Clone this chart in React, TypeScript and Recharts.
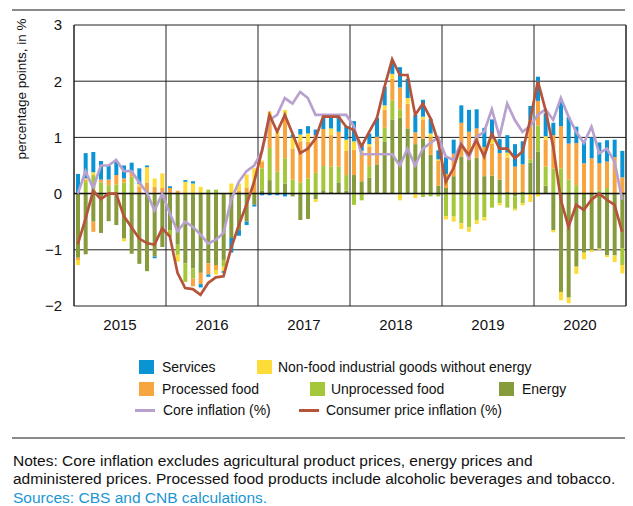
import React from 'react';
import { ComposedChart, Bar, Line, XAxis, YAxis, CartesianGrid, ReferenceLine } from 'recharts';

const years = ['2015', '2016', '2017', '2018', '2019', '2020'];
const monthNames = ['01', '02', '03', '04', '05', '06', '07', '08', '09', '10', '11', '12'];
const months: string[] = [];
years.forEach((y) => monthNames.forEach((m) => months.push(`${y}-${m}`)));

const services = [
  0.35, 0.45, 0.36, 0.33, 0.25, 0.25, 0.23, 0.16, 0.28, 0.03, -0.03, 0,
  0.03, 0, 0.03, 0.04, -0.06, -0.04, 0, -0.03, -0.26, -0.1, -0.06, -0.03,
  -0.03, -0.03, -0.03, -0.05, 0.05, 0.1, 0.13, 0.1, 0.2, 0.2, 0.27, 0.24,
  0.36, 0.14, 0.19, 0.34, 0.33, 0.21, 0.36, 0.34, 0.31, 0.3, 0.26, 0.16,
  0.3, 0.25, 0.31, 0.39, 0.34, 0.34, 0.34, 0.25, 0.31, 0.4, 0.41, 0.25,
  0.43, 0.41, 0.22, 0.46, 0.47, 0.29, 0.39, 0.37, 0.37, 0.38, 0.31, 0.47,
];
const nonFood = [
  -0.09, 0.02, 0.05, 0, 0, 0, -0.05, 0, 0.05, 0.27, 0.15, 0.26,
  0, -0.12, 0.21, 0.18, 0.12, 0, -0.08, -0.08, 0.18, 0.13, 0.24, 0.25,
  0.02, 0.05, 0.06, 0.12, 0.2, 0.12, 0.15, -0.05, 0, 0.12, 0, 0.2,
  0.15, 0.05, 0.05, 0, 0.08, 0.09, -0.12, 0.1, -0.08, 0.05, 0.07, 0.03,
  -0.06, -0.09, -0.1, -0.08, -0.07, -0.06, 0.09, -0.04, 0.09, -0.03, -0.04, -0.15,
  -0.05, 0.06, -0.04, -0.15, -0.1, -0.13, -0.12, -0.04, -0.02, -0.03, -0.12, -0.15,
];
const processed = [
  -0.04, 0.03, -0.18, 0.05, 0.1, 0.17, 0.07, 0.09, 0.12, 0.2, 0.12, 0.1,
  0.1, 0.05, 0, -0.14, -0.2, -0.2, -0.09, 0, 0, 0.05, 0.1, 0.2,
  0.12, 0.6, 0.65, 0.74, 0.55, 0.73, 0.65, 0.67, 0.66, 0.56, 0.62, 0.43,
  0.45, 0.49, 0.34, 0.49, 0.32, 0.38, 0.39, 0.44, 0.21, 0.34, 0.31, 0.44,
  0.25, 0.4, 0.6, 0.5, 0.52, 0.52, 0.57, 0.47, 0.61, 0.48, 0.49, 0.7,
  0.44, 0.48, 0.59, 0.75, 0.64, 0.75, 0.54, 0.63, 0.48, 0.47, 0.65, 0.29,
];
const unprocessed = [
  0, 0.22, 0.33, 0.2, 0.15, 0.16, 0.2, 0.3, 0, 0, 0, 0,
  -0.12, -0.18, -0.33, -0.18, 0, 0.07, 0.07, -0.12, 0, 0, 0, 0,
  0.4, 0.57, 0.39, 0.45, 0.25, 0.2, 0.27, 0.37, 0.43, 0.45, 0.28, 0.28,
  -0.2, -0.12, 0.21, 0, 0.25, 0.34, 0.15, 0, 0, -0.06, -0.05, -0.05,
  -0.4, -0.41, -0.53, -0.6, -0.47, -0.42, -0.25, -0.17, -0.25, -0.22, -0.17, 0.06,
  0.46, 0.34, 0.45, 0.45, 0.25, 0.15, 0, 0, 0.06, 0.1, 0, -0.3,
];
const energy = [
  -1.14, -1.08, -0.5, -0.7, -0.49, -0.56, -0.8, -1.07, -1.25, -1.38, -1.12, -0.95,
  -0.65, -0.91, -1.24, -1.33, -1.41, -1.24, -1.27, -1.18, -0.79, -0.65, -0.5, -0.2,
  0.05, 0.24, 0, 0.18, -0.05, -0.47, -0.45, -0.1, 0.06, 0.03, 0.2, 0.05,
  0.33, 0.22, 0.28, 0.52, 0.92, 1.32, 1.35, 1.16, 0.88, 0.98, 0.69, 0.14,
  0.1, 0.31, 0.66, 0.6, 0.64, 0.31, 0.32, 0.25, 0.03, -0.05, 0.03, 0.55,
  0.75, 0.14, -0.65, -1.75, -1.85, -1.3, -1.05, -1.0, -0.98, -1.1, -1.1, -0.97,
];
const core = [
  0.0, 0.4, 0.1, 0.5, 0.5, 0.6, 0.4, 0.4, 0.2, 0.02, -0.3, 0.0,
  -0.35, -0.67, -0.5, -0.59, -0.73, -0.89, -0.82, -0.7, -0.11, 0.21, 0.4, 0.5,
  0.75, 1.31, 1.4, 1.7, 1.6, 1.81, 1.7, 1.4, 1.4, 1.4, 1.4, 1.4,
  1.2, 0.7, 0.7, 0.7, 0.7, 0.7, 0.5, 0.8, 0.5, 0.8, 0.9, 1.0,
  0.66, 0.6, 0.9, 0.63, 1.01, 1.1, 1.5, 1.01, 1.6, 1.31, 1.1, 1.2,
  1.4, 1.5, 1.31, 1.7, 1.37, 1.1, 0.9, 1.19, 0.72, 0.8, 0.57, -0.11,
];
const cpi = [
  -0.9, -0.45, 0.05, -0.1, 0.0, 0.0, -0.4, -0.6, -0.8, -0.88, -0.91, -0.62,
  -0.76, -1.41, -1.68, -1.7, -1.8, -1.59, -1.49, -1.47, -0.97, -0.56, -0.2, 0.21,
  0.75, 1.4, 1.1, 1.4, 1.07, 0.72, 0.8, 0.98, 1.37, 1.37, 1.37, 1.19,
  1.13, 0.84, 1.1, 1.34, 1.9, 2.39, 2.11, 2.11, 1.4, 1.6, 1.34, 0.92,
  0.21, 0.45, 0.87, 0.69, 0.95, 0.66, 1.07, 0.8, 0.8, 0.63, 0.75, 1.31,
  2.0, 1.49, 0.84, -0.11, -0.59, -0.2, -0.29, -0.11, 0, -0.11, -0.2, -0.68,
];

const yTicks = [-2, -1, 0, 1, 2, 3];

const data = months.map((m, i) => ({
  x: i,
  month: m,
  energy: energy[i],
  unprocessed: unprocessed[i],
  processed: processed[i],
  nonFood: nonFood[i],
  services: services[i],
  core: core[i],
  cpi: cpi[i],
}));

const yearTicks = years.map((_, i) => i * 12 + 5.5);
const yearBounds = years.slice(1).map((_, i) => (i + 1) * 12 - 0.5);

const FONT = "'Liberation Sans', Arial, Helvetica, sans-serif";
const C = {
  services: '#0a94d4',
  nonFood: '#fddc3a',
  processed: '#f6a53f',
  unprocessed: '#a4c83a',
  energy: '#869b3c',
  core: '#b9a1cf',
  cpi: '#b5533b',
  grid: '#222',
};

type Item = { sx: number; tx: number; label: string; color: string; line?: boolean };
const legendRows: { cy: number; items: Item[] }[] = [
  {
    cy: 367,
    items: [
      { sx: 139, tx: 162, label: 'Services', color: C.services },
      { sx: 257, tx: 278, label: 'Non-food industrial goods without energy', color: C.nonFood },
    ],
  },
  {
    cy: 388.5,
    items: [
      { sx: 139, tx: 162, label: 'Processed food', color: C.processed },
      { sx: 310, tx: 331, label: 'Unprocessed food', color: C.unprocessed },
      { sx: 499, tx: 522, label: 'Energy', color: C.energy },
    ],
  },
  {
    cy: 410,
    items: [
      { sx: 135, tx: 163, label: 'Core inflation (%)', color: C.core, line: true },
      { sx: 299, tx: 326, label: 'Consumer price inflation (%)', color: C.cpi, line: true },
    ],
  },
];

export default function App() {
  return (
    <div style={{ position: 'absolute', left: 0, top: 0, width: 633, height: 506, background: '#fff', fontFamily: FONT, overflow: 'hidden', color: '#111' }}>
      <div style={{ position: 'absolute', left: 12, top: 9, width: 613, height: 2, background: '#8a8a8a' }} />
      <div style={{ position: 'absolute', left: 22, top: 89, width: 0, height: 0 }}>
        <div style={{ position: 'absolute', left: 0, top: 0, transform: 'translate(-50%, -50%) rotate(-90deg)', whiteSpace: 'nowrap', fontSize: 13.5, lineHeight: '16px' }}>
          percentage points, in %
        </div>
      </div>
      <ComposedChart
        width={633}
        height={340}
        data={data}
        stackOffset="sign"
        margin={{ top: 25, right: 7, bottom: 10, left: 0 }}
        style={{ position: 'absolute', left: 0, top: 0 }}
      >
        <CartesianGrid vertical={false} stroke={C.grid} strokeWidth={1} />
        <XAxis
          type="number"
          dataKey="x"
          domain={[-0.5, 71.5]}
          ticks={yearTicks}
          tickFormatter={(v: number) => years[Math.floor(v / 12)]}
          axisLine={false}
          tickLine={false}
          tickSize={6}
          tickMargin={7}
          height={24}
          interval={0}
          allowDataOverflow
          tick={{ fill: '#111', fontSize: 15, fontFamily: FONT }}
        />
        <YAxis
          domain={[-2, 3]}
          ticks={yTicks}
          width={74}
          axisLine={false}
          tickLine={false}
          tickSize={6}
          tickMargin={6}
          interval={0}
          tickFormatter={(v: number) => (v < 0 ? `\u2212${Math.abs(v)}` : `${v}`)}
          tick={{ fill: '#111', fontSize: 15, fontFamily: FONT }}
        />
        {yearBounds.map((b) => (
          <ReferenceLine key={b} x={b} stroke={C.grid} strokeWidth={1} />
        ))}
        <ReferenceLine x={-0.5} stroke={C.grid} strokeWidth={1.5} />
        <ReferenceLine x={71.5} stroke={C.grid} strokeWidth={1.5} />
        <Bar dataKey="energy" stackId="a" fill={C.energy} barSize={4} isAnimationActive={false} />
        <Bar dataKey="unprocessed" stackId="a" fill={C.unprocessed} barSize={4} isAnimationActive={false} />
        <Bar dataKey="processed" stackId="a" fill={C.processed} barSize={4} isAnimationActive={false} />
        <Bar dataKey="nonFood" stackId="a" fill={C.nonFood} barSize={4} isAnimationActive={false} />
        <Bar dataKey="services" stackId="a" fill={C.services} barSize={4} isAnimationActive={false} />
        <ReferenceLine y={0} stroke="#111" strokeWidth={1.5} />
        <Line dataKey="core" stroke={C.core} strokeWidth={2.7} dot={false} isAnimationActive={false} type="linear" />
        <Line dataKey="cpi" stroke={C.cpi} strokeWidth={2.7} dot={false} isAnimationActive={false} type="linear" />
      </ComposedChart>

      {legendRows.map((row) =>
        row.items.map((it) => (
          <React.Fragment key={it.label}>
            {it.line ? (
              <div style={{ position: 'absolute', left: it.sx, top: row.cy - 1.5, width: 20, height: 3, background: it.color }} />
            ) : (
              <div style={{ position: 'absolute', left: it.sx, top: row.cy - 7, width: 15, height: 14, background: it.color }} />
            )}
            <div
              style={{
                position: 'absolute',
                left: it.tx,
                top: row.cy - 10,
                height: 20,
                lineHeight: '20px',
                fontSize: 15.5,
                whiteSpace: 'nowrap',
                transform: 'scaleX(0.9)',
                transformOrigin: 'left center',
              }}
            >
              {it.label}
            </div>
          </React.Fragment>
        ))
      )}

      <div style={{ position: 'absolute', left: 12, top: 437, width: 613, height: 2, background: '#8a8a8a' }} />
      <div style={{ position: 'absolute', left: 13, top: 452, width: 620, fontSize: 15.5, lineHeight: '18.3px' }}>
        <div style={{ whiteSpace: 'nowrap' }}>Notes: Core inflation excludes agricultural product prices, energy prices and</div>
        <div style={{ whiteSpace: 'nowrap' }}>administered prices. Processed food products include alcoholic beverages and tobacco.</div>
        <div style={{ whiteSpace: 'nowrap', color: '#1a96d4' }}>Sources: CBS and CNB calculations.</div>
      </div>
    </div>
  );
}
